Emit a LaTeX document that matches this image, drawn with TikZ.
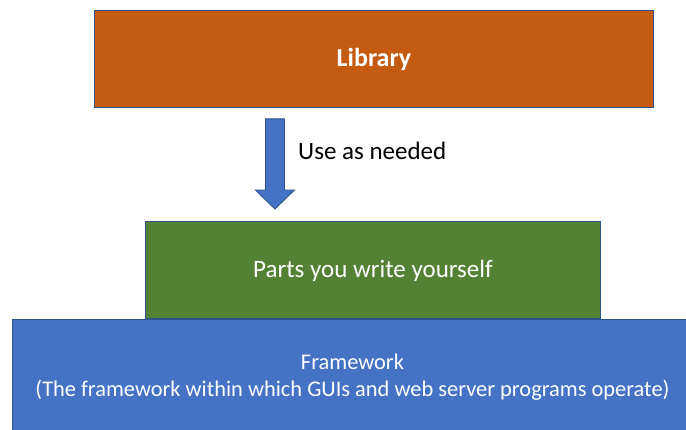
\documentclass[tikz,border=0pt]{standalone}
\usepackage{fontspec}
\setmainfont{Carlito}
\usetikzlibrary{calc}
\definecolor{libfill}{HTML}{C55A11}
\definecolor{ownfill}{HTML}{548235}
\definecolor{fwfill}{HTML}{4472C4}
\definecolor{edge}{HTML}{2F528F}
\tikzset{
  block/.style={draw=edge, line width=0.9pt, text=white, inner sep=0pt,
    anchor=north west, text height=16pt, text depth=0pt},
  blockarrow/.style={fill=fwfill, draw=edge, line width=0.9pt},
  caption/.style={inner sep=0pt, anchor=base west, font=\fontsize{25}{30}\selectfont}
}
\begin{document}
\begin{tikzpicture}[x=1pt, y=-1pt]
  \clip (0,0) rectangle (686,429);
  \fill[white] (0,0) rectangle (686,429);

  % library on top
  \node[block, fill=libfill, minimum width=559pt, minimum height=97.5pt,
        font=\bfseries\fontsize{26}{31}\selectfont] (lib) at (94,9.5) {Library};

  % code written by the user
  \node[block, fill=ownfill, minimum width=455pt, minimum height=97pt,
        font=\fontsize{25}{30}\selectfont] (own) at (145,221) {Parts you write yourself};

  % framework underneath
  \node[block, fill=fwfill, minimum width=680pt, minimum height=116pt,
        text height=, text depth=, align=center,
        font=\fontsize{22.4}{26.7}\selectfont] (fw) at (12,319)
        {Framework\\(The framework within which GUIs and web server programs operate)};

  % block arrow from the library down to the user's code
  \coordinate (atop) at ($(lib.south)+(-99,11)$);
  \coordinate (atip) at ($(own.north)+(-98,-12)$);
  \draw[blockarrow] ($(atop)+(-9.5,0)$) -- ($(atop)+(9.5,0)$)
        -- ($(atip)+(9.5,-19)$) -- ($(atip)+(19.5,-19)$) -- (atip)
        -- ($(atip)+(-19.5,-19)$) -- ($(atip)+(-9.5,-19)$) -- cycle;
  \node[caption] (use) at (298,159.3) {Use as needed};
\end{tikzpicture}
\end{document}
